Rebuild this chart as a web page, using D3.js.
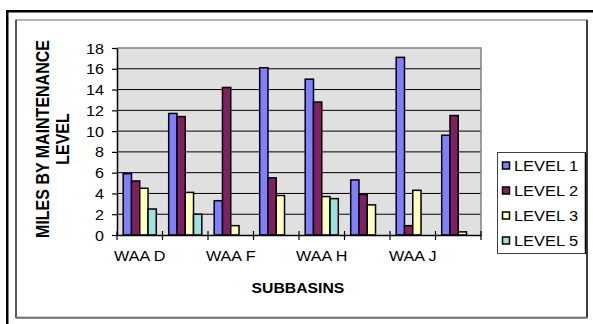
<!DOCTYPE html>
<html>
<head>
<meta charset="utf-8">
<script src="https://cdn.jsdelivr.net/npm/d3@7"></script>
<style>
  html, body { margin: 0; padding: 0; background: #fff; }
  svg { display: block; }
  text { font-family: "Liberation Sans", Arial, sans-serif; fill: #000; }
</style>
</head>
<body>
<svg id="chart" width="593" height="324"></svg>
<script>
// Miles of road per maintenance level, by subbasin
const categories = ["WAA D", "WAA E", "WAA F", "WAA G", "WAA H", "WAA I", "WAA J", "WAA K"];
const seriesNames = ["LEVEL 1", "LEVEL 2", "LEVEL 3", "LEVEL 5"];
const level1 = [5.9, 11.7, 3.3, 16.1, 15.0, 5.3, 17.1, 9.6];
const level2 = [5.2, 11.4, 14.2, 5.5, 12.8, 3.9, 0.9, 11.5];
const level3 = [4.5, 4.1, 0.9, 3.8, 3.7, 2.9, 4.3, 0.3];
const level5 = [2.5, 2.0, 0, 0, 3.5, 0, 0, 0];
const yTicks = [0, 2, 4, 6, 8, 10, 12, 14, 16, 18];
const colors = ["#8080FF", "#7F2060", "#FFFFC0", "#A0E0E0"];

const seriesValues = [level1, level2, level3, level5];
const svg = d3.select("#chart");

// horizontal widening applied to all labels
const STRETCH = 1.15;
function widen(sel, k) {
  sel.each(function () {
    const len = this.getComputedTextLength();
    if (len > 0) {
      d3.select(this).attr("textLength", len * (k || STRETCH)).attr("lengthAdjust", "spacingAndGlyphs");
    }
  });
}

// outer frame
svg.append("rect")
  .attr("x", 7.25).attr("y", 11.25).attr("width", 700).attr("height", 500)
  .attr("fill", "none").attr("stroke", "#000").attr("stroke-width", 2.5);

// chart area frame
svg.append("rect")
  .attr("x", 16).attr("y", 20).attr("width", 571).attr("height", 297.5)
  .attr("fill", "#fff").attr("stroke", "#808080").attr("stroke-width", 1.2);
svg.append("line").attr("x1", 16).attr("x2", 16).attr("y1", 20).attr("y2", 318)
  .attr("stroke", "#000").attr("stroke-width", 1);
svg.append("line").attr("x1", 587).attr("x2", 587).attr("y1", 20).attr("y2", 318)
  .attr("stroke", "#000").attr("stroke-width", 1.3);
svg.append("line").attr("x1", 16).attr("x2", 587).attr("y1", 317.8).attr("y2", 317.8)
  .attr("stroke", "#707070").attr("stroke-width", 2);

const plot = { left: 117, right: 481, top: 48, bottom: 235 };

const x = d3.scaleBand().domain(categories).range([plot.left, plot.right]).padding(0);
const bw = x.bandwidth();
const gap = bw * 1.5 / 5.5;
const xs = d3.scaleBand().domain(seriesNames).range([gap / 2, bw - gap / 2]).padding(0);
const y = d3.scaleLinear().domain([0, 18]).range([plot.bottom, plot.top]);

// plot background
svg.append("rect")
  .attr("x", plot.left).attr("y", plot.top)
  .attr("width", plot.right - plot.left).attr("height", plot.bottom - plot.top)
  .attr("fill", "#E0E0E0");

// gridlines
svg.append("g").selectAll("line")
  .data(yTicks.filter(d => d > 0 && d < 18))
  .join("line")
  .attr("x1", plot.left).attr("x2", plot.right)
  .attr("y1", d => y(d)).attr("y2", d => y(d))
  .attr("stroke", "#000").attr("stroke-width", 1);

// plot border (top and right)
svg.append("path")
  .attr("d", `M${plot.left},${y(18)}H${plot.right}V${plot.bottom}`)
  .attr("fill", "none").attr("stroke", "#808080").attr("stroke-width", 1.5);

// bars
const rows = [];
categories.forEach((c, i) => {
  seriesNames.forEach((s, j) => {
    rows.push({ cat: c, series: s, value: seriesValues[j][i], color: colors[j] });
  });
});
svg.append("g").selectAll("rect")
  .data(rows.filter(d => d.value > 0))
  .join("rect")
  .attr("x", d => x(d.cat) + xs(d.series))
  .attr("y", d => y(d.value))
  .attr("width", xs.bandwidth())
  .attr("height", d => y(0) - y(d.value))
  .attr("fill", d => d.color)
  .attr("stroke", "#000").attr("stroke-width", 1.5);

// y axis
const yAxis = svg.append("g")
  .attr("transform", `translate(${plot.left},0)`)
  .call(d3.axisLeft(y).tickValues(yTicks).tickSize(5).tickSizeOuter(0).tickPadding(8));
yAxis.select(".domain").attr("stroke", "#000").attr("stroke-width", 1.5);
yAxis.selectAll(".tick line").attr("stroke", "#000").attr("stroke-width", 1.2);
yAxis.selectAll(".tick text")
  .attr("font-size", 14).attr("font-family", "'Liberation Sans', Arial, sans-serif")
  .attr("fill", "#000").attr("dy", "0.36em")
  .call(widen);

// x axis: labels on every other category, ticks on band boundaries
const xAxis = svg.append("g")
  .attr("transform", `translate(0,${plot.bottom})`)
  .call(d3.axisBottom(x).tickSize(0).tickSizeOuter(0).tickPadding(16)
    .tickFormat((d, i) => (i % 2 === 0 ? d : "")));
xAxis.select(".domain").attr("stroke", "#000").attr("stroke-width", 1.5);
xAxis.selectAll(".tick text")
  .attr("font-size", 14).attr("font-family", "'Liberation Sans', Arial, sans-serif")
  .attr("fill", "#000")
  .call(widen);
const bounds = categories.map(c => x(c)).concat([plot.right]);
svg.append("g").selectAll("line")
  .data(bounds)
  .join("line")
  .attr("x1", d => d).attr("x2", d => d)
  .attr("y1", plot.bottom - 4).attr("y2", plot.bottom + 5)
  .attr("stroke", "#000").attr("stroke-width", 1.2);

// axis titles
const yTitle = svg.append("g").attr("transform", "translate(0,0)");
[["MILES BY MAINTENANCE", 49], ["LEVEL", 69]].forEach(([t, cx]) => {
  yTitle.append("text")
    .attr("transform", `translate(${cx},${139}) scale(${STRETCH},1) rotate(-90)`)
    .attr("text-anchor", "middle")
    .attr("font-size", 16).attr("font-weight", "bold")
    .text(t);
});
svg.append("text")
  .attr("x", 298).attr("y", 293)
  .attr("text-anchor", "middle")
  .attr("font-size", 15).attr("font-weight", "bold")
  .text("SUBBASINS")
  .call(widen, 1.05);

// legend
const legend = svg.append("g");
legend.append("rect")
  .attr("x", 497.5).attr("y", 152.5).attr("width", 88).attr("height", 101)
  .attr("fill", "#fff").attr("stroke", "#404040").attr("stroke-width", 1);
legend.append("line").attr("x1", 585.5).attr("x2", 585.5).attr("y1", 152.5).attr("y2", 253.5)
  .attr("stroke", "#000").attr("stroke-width", 1.5);
seriesNames.forEach((s, j) => {
  const cy = 166 + j * 25;
  legend.append("rect")
    .attr("x", 502.5).attr("y", cy - 4).attr("width", 7).attr("height", 7)
    .attr("fill", colors[j]).attr("stroke", "#000").attr("stroke-width", 1.5);
  legend.append("text")
    .attr("x", 514).attr("y", cy).attr("dy", "0.36em")
    .attr("font-size", 14)
    .text(s)
    .call(widen, 1.17);
});
</script>
</body>
</html>
